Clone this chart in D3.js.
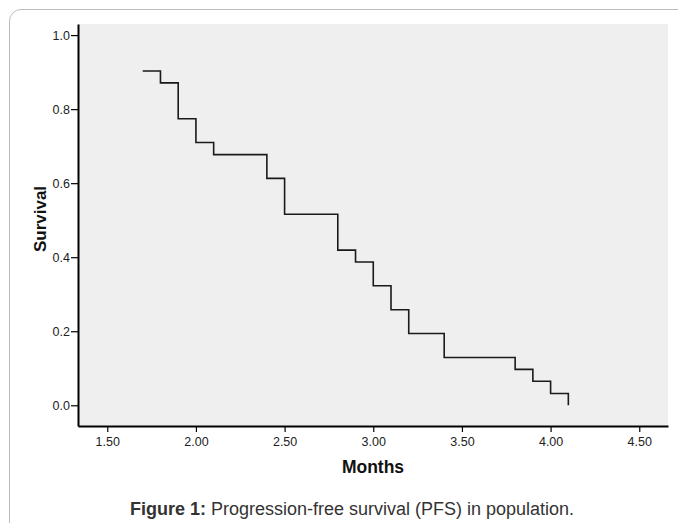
<!DOCTYPE html>
<html>
<head>
<meta charset="utf-8">
<script src="https://cdn.jsdelivr.net/npm/d3@7"></script>
<style>
  body { margin: 0; background: #fff; }
  svg { display: block; font-family: "Liberation Sans", Arial, sans-serif; }
</style>
</head>
<body>
<div id="chart"></div>
<script>
// Kaplan-Meier steps (months, survival after the event)
const months = [1.7, 1.8, 1.9, 2.0, 2.1, 2.4, 2.5, 2.8, 2.9, 3.0, 3.1, 3.2, 3.4, 3.8, 3.9, 4.0, 4.1];
const survival = [0.903, 0.871, 0.774, 0.710, 0.677, 0.613, 0.516, 0.419, 0.387, 0.323, 0.258, 0.194, 0.129, 0.097, 0.065, 0.032, 0.0];
const xTicks = [1.5, 2.0, 2.5, 3.0, 3.5, 4.0, 4.5];
const yTicks = [0.0, 0.2, 0.4, 0.6, 0.8, 1.0];

const width = 678;
const height = 523;
const margin = { top: 24, right: 10, bottom: 97, left: 78 };

const data = months.map((m, i) => ({ m: m, s: survival[i] }));

const svg = d3
  .select("#chart")
  .append("svg")
  .attr("width", width)
  .attr("height", height);

// moldura cinza com canto arredondado
svg
  .append("path")
  .attr("d", "M9.5,523 V21 A11.5,11.5 0 0 1 21,9.5 H678")
  .attr("fill", "none")
  .attr("stroke", "#bdbdbd")
  .attr("stroke-width", 1);

const x = d3
  .scaleLinear()
  .domain([1.335, 4.662])
  .range([margin.left, width - margin.right]);

const y = d3
  .scaleLinear()
  .domain([-0.056, 1.03])
  .range([height - margin.bottom, margin.top]);

// fundo da area do grafico
svg
  .append("rect")
  .attr("x", margin.left)
  .attr("y", margin.top)
  .attr("width", width - margin.right - margin.left)
  .attr("height", height - margin.bottom - margin.top)
  .attr("fill", "#efefef");

// eixo Y
const yAxis = svg
  .append("g")
  .attr("transform", `translate(${margin.left},0)`)
  .call(d3.axisLeft(y).tickValues(yTicks).tickFormat(d3.format(".1f")).tickSize(7).tickSizeOuter(0));

// eixo X
const xAxis = svg
  .append("g")
  .attr("transform", `translate(0,${height - margin.bottom})`)
  .call(d3.axisBottom(x).tickValues(xTicks).tickFormat(d3.format(".2f")).tickSize(6).tickSizeOuter(0));

[yAxis, xAxis].forEach((ax) => {
  ax.attr("font-size", null).attr("font-family", null);
  ax.select(".domain").attr("stroke", "#000").attr("stroke-width", 2);
  ax.selectAll(".tick line").attr("stroke", "#000").attr("stroke-width", 1.2);
  ax.selectAll(".tick text")
    .attr("fill", "#222")
    .style("font-size", "12.5px");
});
yAxis.selectAll(".tick text").attr("x", -8).attr("dy", "0.36em");
xAxis.selectAll(".tick text").attr("y", 11);

// curva de sobrevida
svg
  .append("path")
  .datum(data)
  .attr("fill", "none")
  .attr("stroke", "#1a1a1a")
  .attr("stroke-width", 1.6)
  .attr(
    "d",
    d3
      .line()
      .curve(d3.curveStepAfter)
      .x((d) => x(d.m))
      .y((d) => y(d.s))
  );

// titulos dos eixos
svg
  .append("text")
  .attr("transform", "translate(46,219) rotate(-90)")
  .attr("text-anchor", "middle")
  .style("font-size", "17px")
  .style("font-weight", "bold")
  .attr("fill", "#111")
  .text("Survival");

svg
  .append("text")
  .attr("x", 373)
  .attr("y", 473)
  .attr("text-anchor", "middle")
  .style("font-size", "17.5px")
  .style("font-weight", "bold")
  .attr("fill", "#111")
  .text("Months");

// legenda da figura
const caption = svg
  .append("text")
  .attr("x", 352)
  .attr("y", 515)
  .attr("text-anchor", "middle")
  .style("font-size", "18px")
  .attr("fill", "#333");

caption.append("tspan").style("font-weight", "bold").text("Figure 1:");
caption.append("tspan").text(" Progression-free survival (PFS) in population.");
</script>
</body>
</html>
